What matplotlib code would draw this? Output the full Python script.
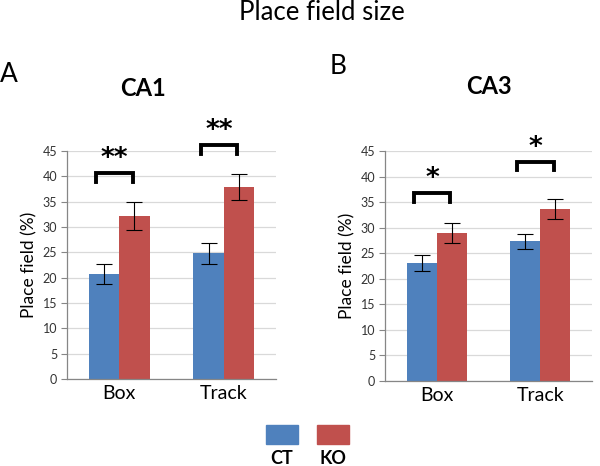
import numpy as np
import matplotlib
matplotlib.use("Agg")
import matplotlib.pyplot as plt
from matplotlib.patches import Rectangle

# ---- data -------------------------------------------------------------
categories = ["Box", "Track"]
groups = ["CT", "KO"]
colors = ["#4F81BD", "#C0504D"]

ca1_ct = [20.7, 24.8]
ca1_ko = [32.2, 37.9]
ca1_ct_err = [1.9, 2.1]
ca1_ko_err = [2.7, 2.6]
ca1_stars = ["**", "**"]
ca1_bracket_y = [40.6, 46.2]

ca3_ct = [23.1, 27.3]
ca3_ko = [29.0, 33.7]
ca3_ct_err = [1.6, 1.5]
ca3_ko_err = [2.0, 2.0]
ca3_stars = ["*", "*"]
ca3_bracket_y = [36.8, 42.9]

yticks = list(range(0, 50, 5))

plt.rcParams['font.family'] = ['Lato', 'DejaVu Sans']

fig = plt.figure(figsize=(6, 4.66), dpi=100)


def panel(rect, ct, ko, ct_err, ko_err, stars, bracket_y, title, letter, title_pos, letter_pos):
    ax = fig.add_axes(rect)
    x = np.arange(len(categories))
    w = 0.29
    ax.bar(x - w/2, ct, w, color=colors[0], zorder=2)
    ax.bar(x + w/2, ko, w, color=colors[1], zorder=2)
    ax.errorbar(x - w/2, ct, yerr=ct_err, fmt='none', ecolor='black',
                elinewidth=0.8, capsize=5.5, capthick=0.8, zorder=3)
    ax.errorbar(x + w/2, ko, yerr=ko_err, fmt='none', ecolor='black',
                elinewidth=0.8, capsize=5.5, capthick=0.8, zorder=3)

    # significance brackets
    for i, (s, by) in enumerate(zip(stars, bracket_y)):
        x0, x1 = x[i] - 0.22, x[i] + 0.13
        ax.plot([x0, x0, x1, x1], [by - 1.7, by, by, by - 1.7], color='black',
                lw=2.8, solid_joinstyle='miter', clip_on=False, zorder=4)
        ax.text(x[i] - 0.045, by + 0.2, s, ha='center', va='bottom',
                fontsize=19, fontweight='bold', family='DejaVu Sans')

    ax.set_xlim(-0.5, len(categories) - 0.5)
    ax.set_ylim(0, 45)
    ax.set_yticks(yticks)
    ax.set_xticks(x)
    ax.set_xticklabels(categories, fontsize=14)
    ax.tick_params(axis='x', length=0, pad=4)
    ax.tick_params(axis='y', labelsize=9, length=4, color='#868686',
                   labelcolor='#333333', pad=3)
    ax.yaxis.grid(True, color='#D9D9D9', lw=0.9, zorder=0)
    ax.set_axisbelow(True)
    for sp in ['top', 'right']:
        ax.spines[sp].set_visible(False)
    for sp in ['left', 'bottom']:
        ax.spines[sp].set_color('#868686')
        ax.spines[sp].set_linewidth(0.9)
    ax.set_ylabel("Place field (%)", fontsize=12.5, labelpad=4)

    fig.text(title_pos[0] / 600, 1 - title_pos[1] / 466, title, ha='center',
             va='center', fontsize=17, fontweight='bold')
    fig.text(letter_pos[0] / 600, 1 - letter_pos[1] / 466, letter, ha='center',
             va='center', fontsize=19)
    return ax


panel([67/600, 1 - 379/466, 209/600, 228/466], ca1_ct, ca1_ko, ca1_ct_err,
      ca1_ko_err, ca1_stars, ca1_bracket_y, "CA1", "A", (143, 88), (9, 74))
panel([385/600, 1 - 381/466, 207/600, 230/466], ca3_ct, ca3_ko, ca3_ct_err,
      ca3_ko_err, ca3_stars, ca3_bracket_y, "CA3", "B", (489, 86), (338, 67))

fig.text(322/600, 1 - 13/466, "Place field size", ha='center', va='center',
         fontsize=18.5)

# legend: colour boxes with labels underneath
leg_x = [266, 317]
for lx, g, c in zip(leg_x, groups, colors):
    fig.add_artist(Rectangle((lx/600, 1 - 444/466), 32/600, 19/466,
                             transform=fig.transFigure, color=c))
    fig.text((lx + 16)/600, 1 - 459/466, g, ha='center', va='center',
             fontsize=13, fontweight='bold')

plt.savefig('out.png', dpi=100)
